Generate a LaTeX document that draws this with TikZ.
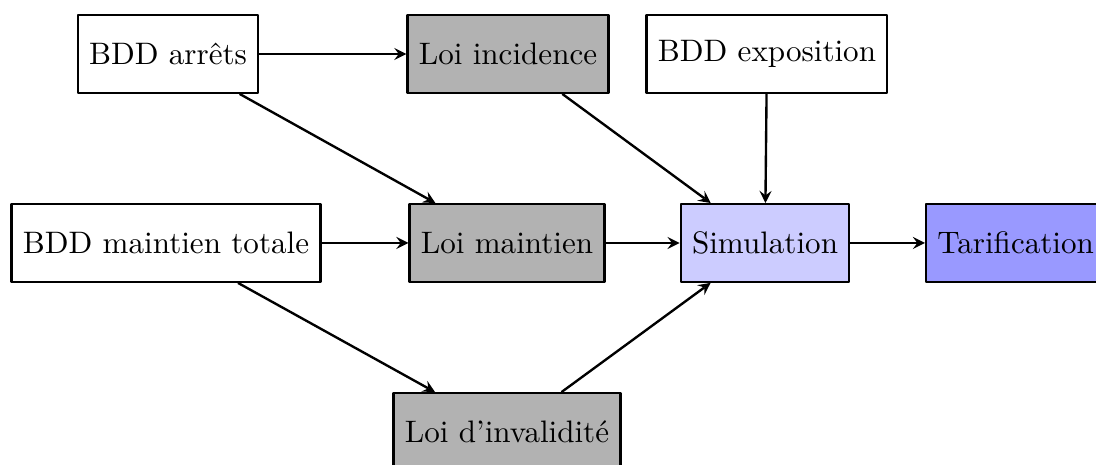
\documentclass[tikz,border=0pt]{standalone}
\begin{document}
\begin{tikzpicture}[thick, line join=round, >=stealth, font=\fontsize{10.5}{12.6}\selectfont]
\tikzset{box/.style={draw, fill=white, minimum height=0.92cm, inner xsep=3.8pt},
  loi/.style={box, fill=black!30}}
\useasboundingbox (0,0) rectangle (13.014,-5.521);
\node[box] (arrets) at (1.995,-0.641) {BDD arrêts};
\node[loi] (incidence) at (6.032,-0.641) {Loi incidence};
\node[box] (exposition) at (9.107,-0.641) {BDD exposition};
\node[box] (totale) at (1.971,-2.885) {BDD maintien totale};
\node[loi] (maintien) at (6.020,-2.885) {Loi maintien};
\node[box, fill=blue!20] (simulation) at (9.084,-2.885) {Simulation};
\node[box, fill=blue!40] (tarification) at (12.06,-2.885) {Tarification};
\node[loi] (invalidite) at (6.020,-5.13) {Loi d'invalidité};
\draw[->] (arrets) -- (incidence);
\draw[->] (arrets) -- (maintien);
\draw[->] (incidence) -- (simulation);
\draw[->] (exposition) -- (simulation);
\draw[->] (totale) -- (maintien);
\draw[->] (totale) -- (invalidite);
\draw[->] (maintien) -- (simulation);
\draw[->] (invalidite) -- (simulation);
\draw[->] (simulation) -- (tarification);
\end{tikzpicture}
\end{document}
